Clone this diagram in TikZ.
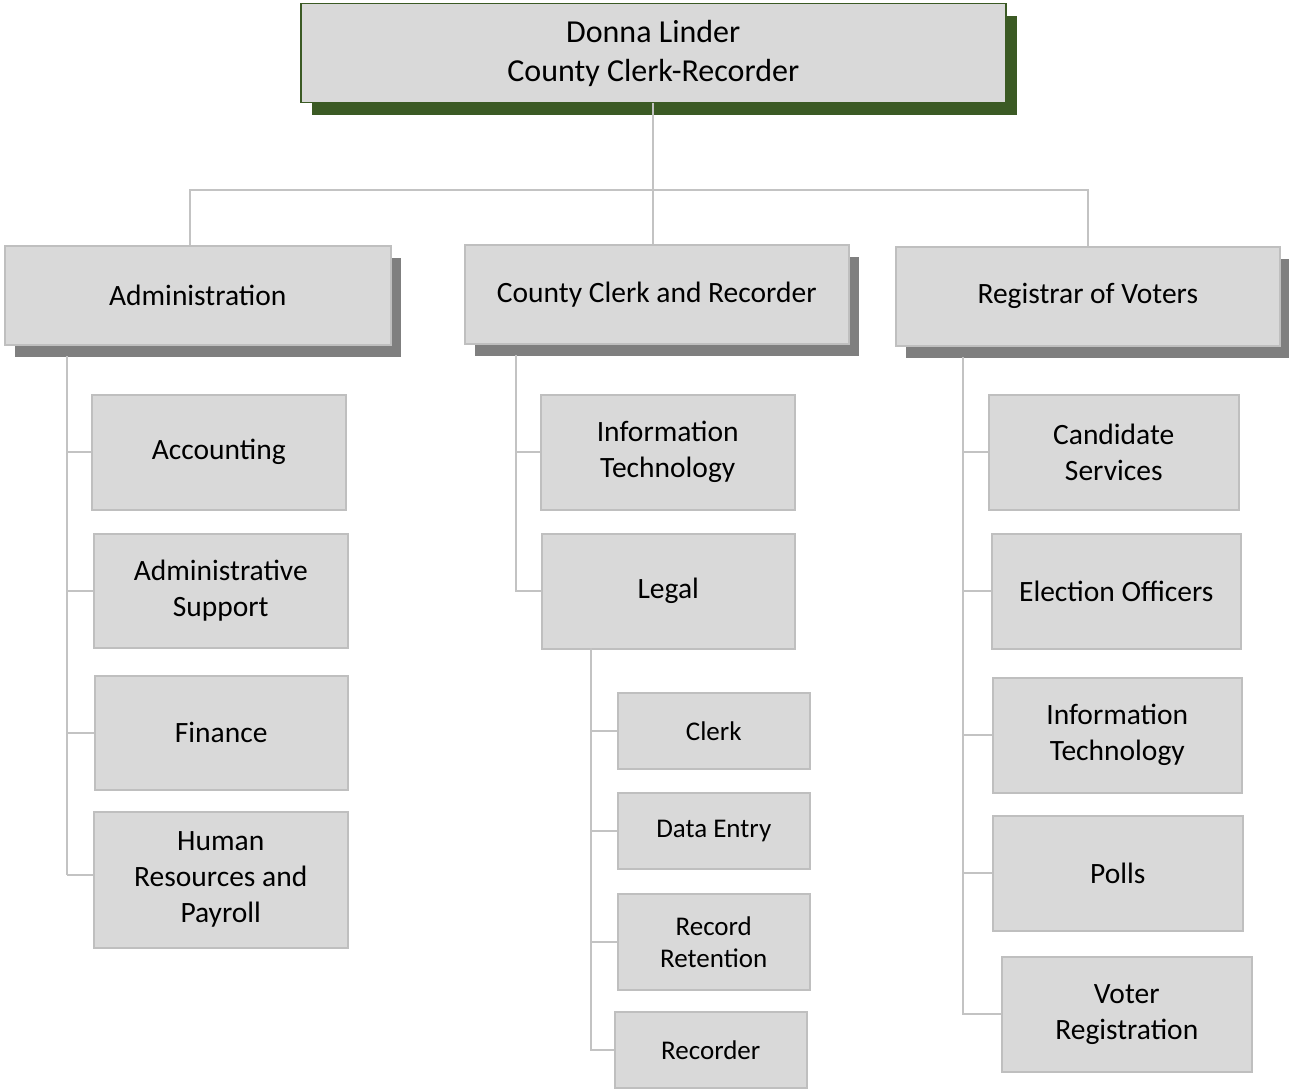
\documentclass[tikz,border=0pt]{standalone}
\usepackage{fontspec}
\setmainfont{Carlito}
\usetikzlibrary{shadows}
\definecolor{boxfill}{HTML}{D9D9D9}
\definecolor{boxline}{HTML}{BFBFBF}
\definecolor{linegray}{HTML}{C3C3C3}
\definecolor{shgray}{HTML}{7F7F7F}
\definecolor{headgreen}{HTML}{3B5A24}

\tikzset{
  unit/.style={draw=boxline, fill=boxfill, line width=1.5pt, align=center,
    inner sep=0pt, anchor=north west, text=black,
    font=\fontsize{29.5}{36}\selectfont},
  small/.style={unit, font=\fontsize{27}{32}\selectfont},
  dept/.style={unit, drop shadow={shadow xshift=10pt, shadow yshift=-12pt,
    fill=shgray, opacity=1}},
  head/.style={unit, draw=headgreen, fill=boxfill, font=\fontsize{32}{39}\selectfont,
    drop shadow={shadow xshift=11pt, shadow yshift=-12pt, fill=headgreen, opacity=1}},
  conn/.style={draw=linegray, line width=2pt}
}

\begin{document}
\begin{tikzpicture}[x=1pt, y=-1pt]
    \useasboundingbox (0,0) rectangle (1289,1089);
    % connectors first, boxes on top
    \coordinate (busl) at (190,190);
    \coordinate (busr) at (1088,190);
    \coordinate (admtrunk) at (67,356);
    \coordinate (cctrunk) at (516,355);
    \coordinate (legtrunk) at (591,648);
    \coordinate (rovtrunk) at (963,357);

    \node[head, minimum width=705pt, minimum height=99pt] (top) at (300,3) {Donna Linder\\County Clerk-Recorder};

    \node[dept, minimum width=386pt, minimum height=99pt] (adm) at (4,245) {Administration};
    \node[dept, minimum width=384pt, minimum height=99pt] (ccr) at (464,244) {County Clerk and Recorder};
    \node[dept, minimum width=384pt, minimum height=99pt] (rov) at (895,246) {Registrar of Voters};

    \draw[conn] (top.south) -- (top.south |- ccr.north);
    \draw[conn] (busl |- adm.north) -- (busl) -- (busr) -- (busr |- rov.north);

    % administration
    \draw[conn] (admtrunk) -- (67,875);
    \node[unit, minimum width=254pt, minimum height=115pt] (acc) at (91,394) {Accounting};
    \node[unit, minimum width=254pt, minimum height=114pt] (ads) at (93,533) {Administrative\\Support};
    \node[unit, minimum width=253pt, minimum height=114pt] (fin) at (94,675) {Finance};
    \node[unit, minimum width=254pt, minimum height=136pt] (hrp) at (93,811) {Human\\Resources and\\Payroll};
    \foreach \n in {acc,ads,fin}
      \draw[conn] (admtrunk |- \n.west) -- (\n.west);
    \draw[conn] (67,875) -- (hrp.west |- 0,875);

    % county clerk and recorder
    \node[unit, minimum width=254pt, minimum height=115pt] (cit) at (540,394) {Information\\Technology};
    \node[unit, minimum width=253pt, minimum height=115pt] (leg) at (541,533) {Legal};
    \draw[conn] (cctrunk) |- (leg.west);
    \draw[conn] (cctrunk |- cit.west) -- (cit.west);

    % legal
    \node[small, minimum width=192pt, minimum height=76pt] (clk) at (617,692) {Clerk};
    \node[small, minimum width=192pt, minimum height=76pt] (den) at (617,792) {Data Entry};
    \node[small, minimum width=192pt, minimum height=96pt] (rr) at (617,893) {Record\\Retention};
    \node[small, minimum width=192pt, minimum height=76pt] (rec) at (614,1011) {Recorder};
    \draw[conn] (legtrunk) |- (rec.west);
    \foreach \n in {clk,den,rr}
      \draw[conn] (legtrunk |- \n.west) -- (\n.west);

    % registrar of voters
    \node[unit, minimum width=250pt, minimum height=115pt] (cs) at (988,394) {Candidate\\Services};
    \node[unit, minimum width=249pt, minimum height=115pt] (eo) at (991,533) {Election Officers};
    \node[unit, minimum width=249pt, minimum height=115pt] (rit) at (992,677) {Information\\Technology};
    \node[unit, minimum width=250pt, minimum height=115pt] (pol) at (992,815) {Polls};
    \node[unit, minimum width=250pt, minimum height=115pt] (vr) at (1001,956) {Voter\\Registration};
    \draw[conn] (rovtrunk) |- (vr.west);
    \foreach \n in {cs,eo,rit,pol}
      \draw[conn] (rovtrunk |- \n.west) -- (\n.west);
\end{tikzpicture}
\end{document}
